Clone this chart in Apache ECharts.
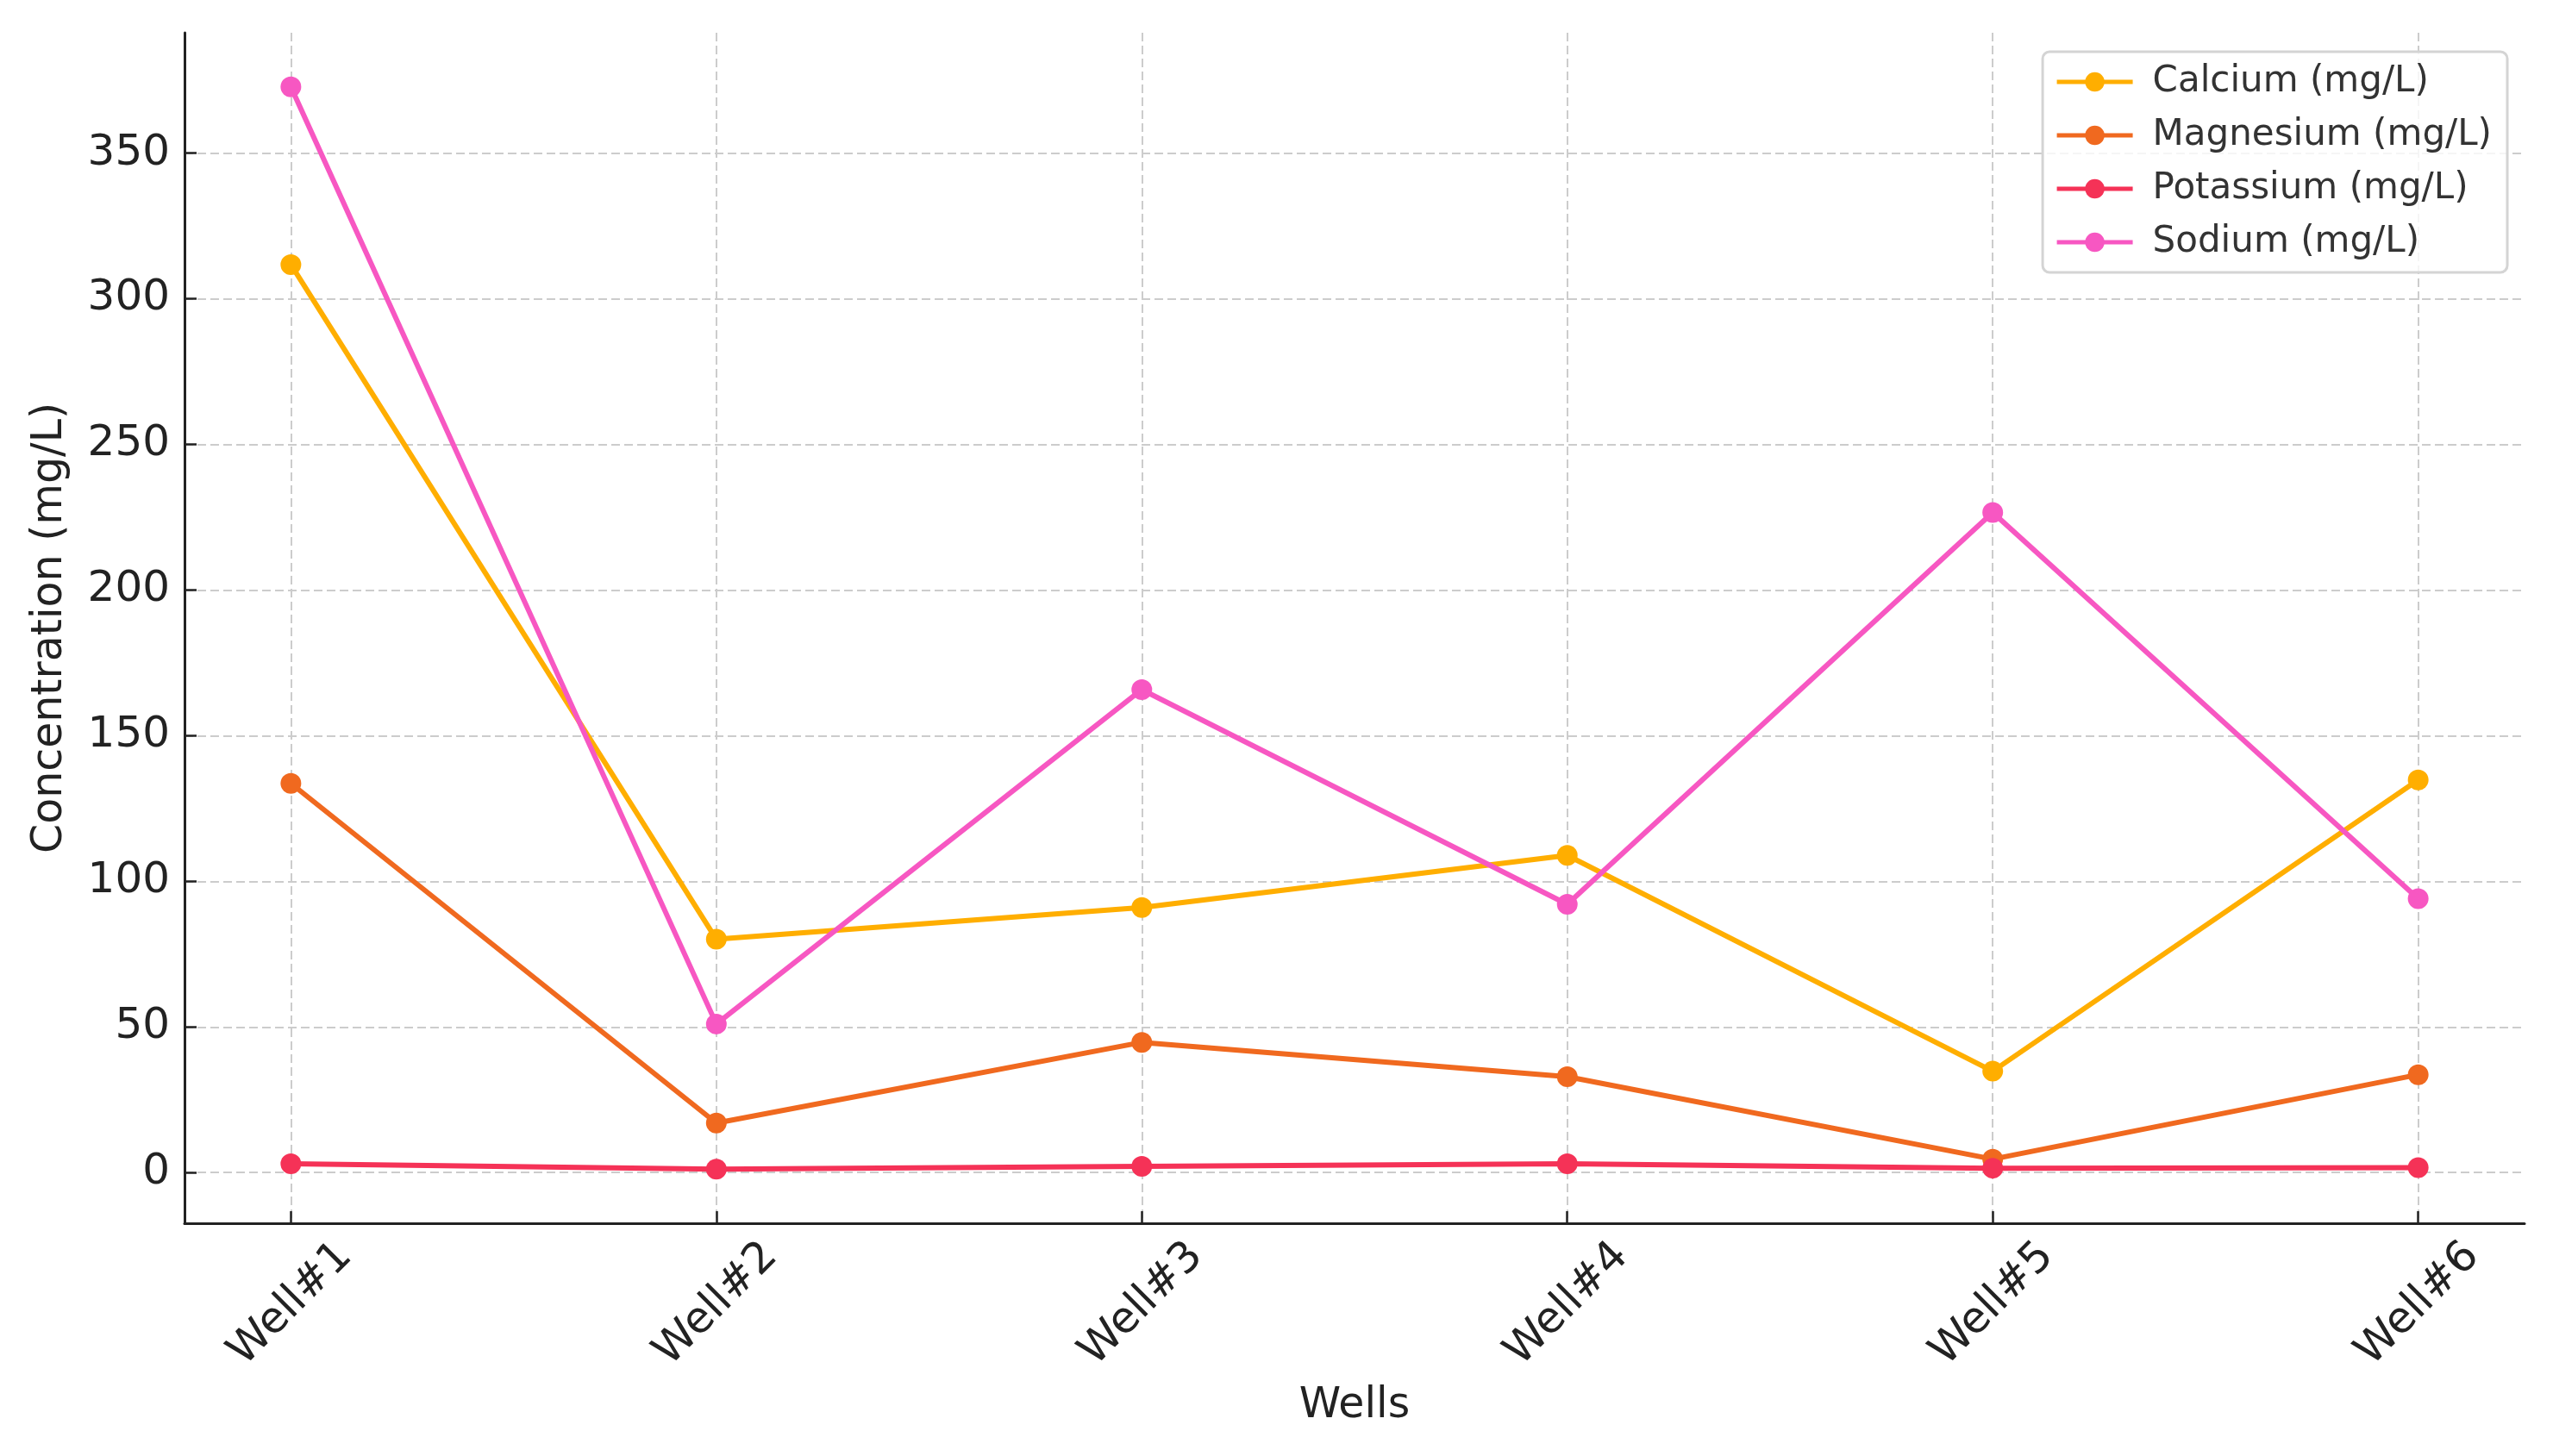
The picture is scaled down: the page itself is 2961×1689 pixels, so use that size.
<!DOCTYPE html>
<html>
<head>
<meta charset="utf-8">
<script src="https://cdn.jsdelivr.net/npm/echarts@6/dist/echarts.min.js"></script>
<style>
html,body{margin:0;padding:0;background:#fff;}
#chart{width:2961px;height:1689px;}
</style>
</head>
<body>
<div id="chart"></div>
<script>
const wells = ['Well#1', 'Well#2', 'Well#3', 'Well#4', 'Well#5', 'Well#6'];
const calcium = [311.7, 80.1, 91.0, 108.9, 34.8, 134.8];
const magnesium = [133.6, 17.0, 44.7, 32.9, 4.6, 33.6];
const potassium = [3.0, 1.2, 2.1, 3.0, 1.5, 1.7];
const sodium = [372.7, 51.0, 165.8, 92.1, 226.6, 94.0];
const yTicks = [0, 50, 100, 150, 200, 250, 300, 350];
const seriesNames = ['Calcium (mg/L)', 'Magnesium (mg/L)', 'Potassium (mg/L)', 'Sodium (mg/L)'];
const seriesColors = ['#FFAE00', '#F0691F', '#F53257', '#F757C2'];
const seriesValues = [calcium, magnesium, potassium, sodium];

const xTicks = wells.map((w, i) => i);
const font = 'DejaVu Sans';

const chart = echarts.init(document.getElementById('chart'), null, {renderer: 'canvas'});
const option = {
  animation: false,
  backgroundColor: '#ffffff',
  grid: {left: 214, right: 33, top: 38, bottom: 270, containLabel: false},
  legend: {
    right: 53, top: 60, orient: 'vertical',
    padding: [10, 18, 10, 14],
    itemWidth: 88, itemHeight: 28, itemGap: 12,
    backgroundColor: 'rgba(255,255,255,0.8)',
    borderColor: '#d4d4d4', borderWidth: 3, borderRadius: 8,
    lineStyle: {width: 5},
    textStyle: {fontFamily: font, fontSize: 42, color: '#333', lineHeight: 50, padding: [0, 0, 0, 18]},
    data: seriesNames
  },
  xAxis: {
    type: 'value', min: -0.25, max: 5.25,
    name: 'Wells', nameLocation: 'middle', nameGap: 212,
    nameTextStyle: {fontFamily: font, fontSize: 49, color: '#222', verticalAlign: 'middle'},
    axisLine: {show: true, onZero: false, lineStyle: {color: '#222', width: 3}},
    axisTick: {show: true, inside: true, length: 14, customValues: xTicks, lineStyle: {color: '#222', width: 2.5}},
    axisLabel: {
      customValues: xTicks, rotate: 45, margin: 94, align: 'center', verticalAlign: 'middle',
      fontFamily: font, fontSize: 50, color: '#222',
      formatter: v => wells[Math.round(v)]
    },
    splitLine: {show: true, lineStyle: {color: '#cccccc', width: 2, type: [10, 5]}}
  },
  yAxis: {
    type: 'value', min: -17.4, max: 391.3,
    name: 'Concentration (mg/L)', nameLocation: 'middle', nameGap: 156,
    nameTextStyle: {fontFamily: font, fontSize: 49, color: '#222', verticalAlign: 'middle'},
    axisLine: {show: true, onZero: false, lineStyle: {color: '#222', width: 3}},
    axisTick: {show: true, inside: true, length: 14, customValues: yTicks, lineStyle: {color: '#222', width: 2.5}},
    axisLabel: {customValues: yTicks, margin: 17, fontFamily: font, fontSize: 50, color: '#222'},
    splitLine: {show: true, lineStyle: {color: '#cccccc', width: 2, type: [10, 5]}}
  },
  series: seriesNames.map((name, k) => ({
    name: name,
    type: 'line',
    data: seriesValues[k].map((v, i) => [i, v]),
    symbol: 'circle', symbolSize: 24, showSymbol: true,
    itemStyle: {color: seriesColors[k]},
    lineStyle: {color: seriesColors[k], width: 6},
    emphasis: {disabled: true},
    z: 2 + k
  }))
};
chart.setOption(option);
</script>
</body>
</html>
